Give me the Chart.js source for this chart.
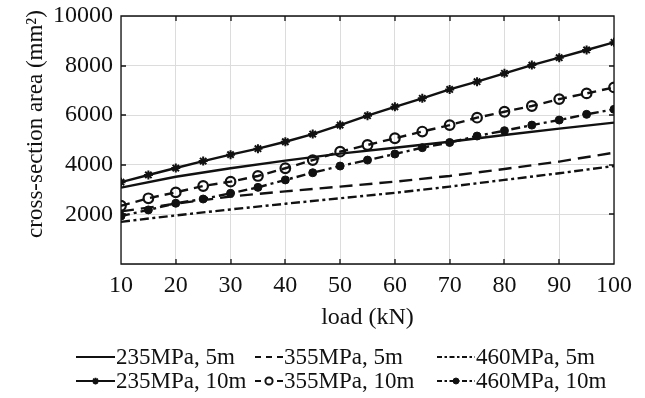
<!DOCTYPE html>
<html>
<head>
<meta charset="utf-8">
<script src="https://cdn.jsdelivr.net/npm/chart.js@4/dist/chart.umd.min.js"></script>
<style>
  html, body { margin: 0; padding: 0; background: #fff; }
  #wrap { width: 645px; height: 398px; position: relative; }
</style>
</head>
<body>
<div id="wrap"><canvas id="c" width="645" height="398"></canvas></div>
<script>
// ---- data ----
const loads5  = [10, 20, 30, 40, 50, 60, 70, 80, 90, 100];
const loads10 = [10, 15, 20, 25, 30, 35, 40, 45, 50, 55, 60, 65, 70, 75, 80, 85, 90, 95, 100];

const s235_5m  = [3080, 3520, 3860, 4170, 4450, 4690, 4930, 5200, 5460, 5700];
const s355_5m  = [2120, 2430, 2720, 2930, 3120, 3320, 3550, 3830, 4130, 4490];
const s460_5m  = [1700, 1960, 2200, 2430, 2650, 2870, 3120, 3390, 3660, 3950];

const s235_10m = [3300, 3590, 3870, 4150, 4410, 4650, 4930, 5240, 5600, 5980, 6340, 6680, 7040, 7350, 7690, 8020, 8320, 8630, 8940];
const s355_10m = [2350, 2650, 2890, 3145, 3320, 3550, 3860, 4190, 4530, 4800, 5070, 5340, 5600, 5900, 6140, 6370, 6650, 6880, 7120];
const s460_10m = [1935, 2180, 2450, 2620, 2850, 3090, 3390, 3680, 3950, 4190, 4435, 4690, 4900, 5160, 5375, 5600, 5805, 6035, 6235];

const seriesLabels = ['235MPa, 5m', '355MPa, 5m', '460MPa, 5m', '235MPa, 10m', '355MPa, 10m', '460MPa, 10m'];
const xTicks = [10, 20, 30, 40, 50, 60, 70, 80, 90, 100];
const yTicks = [0, 2000, 4000, 6000, 8000, 10000];
const xTitle = 'load (kN)';
const yTitle = 'cross-section area (mm²)';

const pts = (xs, ys) => xs.map((x, i) => ({ x: x, y: ys[i] }));
const INK = '#111';
const FONT = "'Liberation Serif', 'Times New Roman', serif";

const datasets = [
  { label: seriesLabels[0], data: pts(loads5, s235_5m), borderDash: [], pointRadius: 0, pointStyle: false, legendDash: [] },
  { label: seriesLabels[1], data: pts(loads5, s355_5m), borderDash: [13, 7], pointRadius: 0, pointStyle: false, legendDash: [6, 5] },
  { label: seriesLabels[2], data: pts(loads5, s460_5m), borderDash: [9, 3.5, 3, 3.5], pointRadius: 0, pointStyle: false, legendDash: [5, 2.5, 2.5, 2.5] },
  { label: seriesLabels[3], data: pts(loads10, s235_10m), borderDash: [], pointStyle: 'star', pointRadius: 4.5, pointBorderWidth: 2, pointBackgroundColor: INK, legendDash: [] },
  { label: seriesLabels[4], data: pts(loads10, s355_10m), borderDash: [9, 6], pointStyle: 'circle', pointRadius: 4.8, pointBorderWidth: 2.2, pointBackgroundColor: 'rgba(255,255,255,0)', legendDash: [6, 16] },
  { label: seriesLabels[5], data: pts(loads10, s460_10m), borderDash: [9, 4, 3, 4], pointStyle: 'circle', pointRadius: 4, pointBorderWidth: 1, pointBackgroundColor: INK, legendDash: [5, 2.5, 2.5, 2.5] }
].map(d => Object.assign({ borderColor: INK, pointBorderColor: INK, borderWidth: 2.4, tension: 0, fill: false }, d));

// Box, inner tick marks (MATLAB style) and y-axis title
const boxPlugin = {
  id: 'plotBox',
  afterDraw(chart) {
    const { ctx, chartArea: a, scales } = chart;
    ctx.save();
    ctx.strokeStyle = INK;
    ctx.lineWidth = 1.3;
    ctx.setLineDash([]);
    ctx.beginPath();
    ctx.rect(a.left, a.top, a.right - a.left, a.bottom - a.top);
    const L = 5;
    xTicks.forEach(v => {
      const x = Math.round(scales.x.getPixelForValue(v));
      ctx.moveTo(x, a.bottom); ctx.lineTo(x, a.bottom - L);
      ctx.moveTo(x, a.top); ctx.lineTo(x, a.top + L);
    });
    yTicks.forEach(v => {
      const y = Math.round(scales.y.getPixelForValue(v));
      ctx.moveTo(a.left, y); ctx.lineTo(a.left + L, y);
      ctx.moveTo(a.right, y); ctx.lineTo(a.right - L, y);
    });
    ctx.stroke();
    // y-axis title
    ctx.translate(36, 124);
    ctx.rotate(-Math.PI / 2);
    ctx.fillStyle = INK;
    ctx.font = "23px " + FONT;
    ctx.textAlign = 'center';
    ctx.textBaseline = 'middle';
    ctx.fillText(yTitle, 0, 0);
    ctx.restore();
  }
};

// Custom legend drawn from the datasets' own styles
const legendPlugin = {
  id: 'customLegend',
  afterDraw(chart) {
    const { ctx } = chart;
    const sampleStart = [76, 255, 437];
    const textStart = [116, 284, 476];
    const rows = [357, 381];
    ctx.save();
    chart.data.datasets.forEach((ds, i) => {
      const col = i % 3, row = Math.floor(i / 3);
      const x0 = sampleStart[col], x1 = textStart[col] - 1, y = rows[row];
      ctx.strokeStyle = ds.borderColor;
      ctx.lineWidth = 2;
      ctx.setLineDash(ds.legendDash || []);
      ctx.beginPath();
      ctx.moveTo(x0, y); ctx.lineTo(x1, y);
      ctx.stroke();
      ctx.setLineDash([]);
      if (ds.pointStyle && ds.pointRadius > 0) {
        ctx.fillStyle = ds.pointBackgroundColor;
        ctx.strokeStyle = ds.pointBorderColor;
        ctx.lineWidth = ds.pointBorderWidth * 0.9;
        Chart.helpers.drawPoint(ctx, { pointStyle: ds.pointStyle, radius: ds.pointRadius * 0.75, borderWidth: ds.pointBorderWidth * 0.9, rotation: 0 }, (x0 + x1) / 2, y);
      }
      ctx.fillStyle = INK;
      ctx.font = "23px " + FONT;
      ctx.textBaseline = 'middle';
      ctx.textAlign = 'left';
      ctx.fillText(ds.label, textStart[col], y + 1);
    });
    ctx.restore();
  }
};

new Chart(document.getElementById('c'), {
  type: 'line',
  data: { datasets: datasets },
  options: {
    responsive: false,
    animation: false,
    devicePixelRatio: 1,
    layout: { padding: { top: 16, right: 31, bottom: 66, left: 0 } },
    plugins: { legend: { display: false }, tooltip: { enabled: false } },
    scales: {
      x: {
        type: 'linear',
        min: 10, max: 100,
        afterBuildTicks: s => { s.ticks = xTicks.map(v => ({ value: v })); },
        afterFit: s => { s.height = 68; },
        ticks: { color: INK, font: { family: FONT, size: 24 }, padding: 7, maxRotation: 0, autoSkip: false },
        grid: { color: '#dcdcdc', lineWidth: 1, drawTicks: false },
        border: { display: false },
        title: { display: true, text: xTitle, color: INK, font: { family: FONT, size: 24 }, padding: { top: 0, bottom: 0 } }
      },
      y: {
        min: 0, max: 10000,
        afterBuildTicks: s => { s.ticks = yTicks.map(v => ({ value: v })); },
        afterFit: s => { s.width = 121; },
        ticks: { color: INK, font: { family: FONT, size: 24, lineHeight: 1 }, padding: 0, callback: v => v === 0 ? '' : String(v) },
        grid: { color: '#dcdcdc', lineWidth: 1, drawTicks: true, tickLength: 8, tickColor: 'rgba(0,0,0,0)' },
        border: { display: false },
        title: { display: false }
      }
    }
  },
  plugins: [boxPlugin, legendPlugin]
});
</script>
</body>
</html>
